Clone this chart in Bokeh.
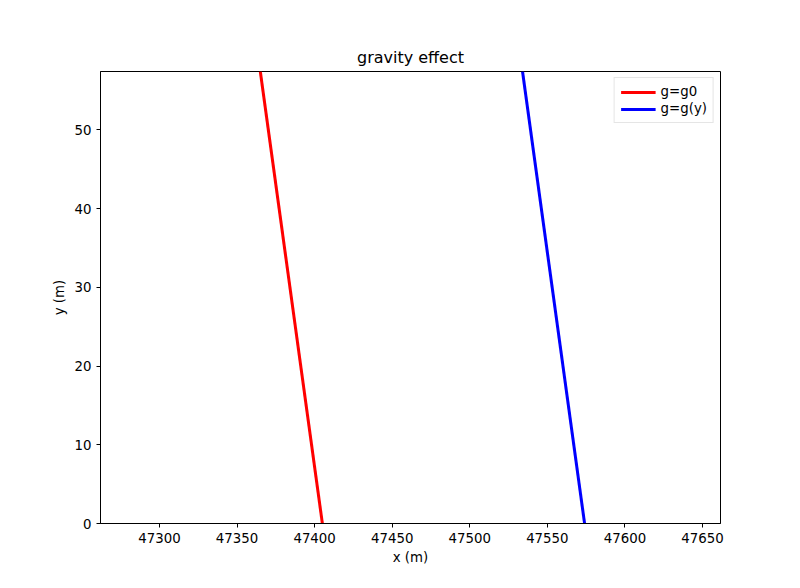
from bokeh.plotting import figure
from bokeh.models import Range1d, Legend, LegendItem
from bokeh.embed import file_html
from bokeh.resources import INLINE

# trajectory end points
x_g0 = [47405, 47365]
y_g0 = [0, 57.4]
x_gy = [47574, 47534]
y_gy = [0, 57.4]

p = figure(width=784, height=572, output_backend="svg", toolbar_location=None,
           x_range=Range1d(47262, 47661.6), y_range=Range1d(0, 57.4),
           min_border_left=100, min_border_right=64, min_border_top=71, min_border_bottom=49)
p.title.text = "gravity effect"
p.title.align = "center"
p.title.text_font = "DejaVu Sans"
p.title.text_font_size = "12pt"
p.title.text_font_style = "normal"
p.title.text_color = "black"
p.xgrid.visible = False
p.ygrid.visible = False
p.outline_line_color = "black"
for ax in (p.xaxis, p.yaxis):
    ax.major_label_text_font = "DejaVu Sans"
    ax.major_label_text_font_size = "10pt"
    ax.major_label_text_color = "black"
    ax.axis_label_text_font = "DejaVu Sans"
    ax.axis_label_text_font_size = "10pt"
    ax.axis_label_text_font_style = "normal"
    ax.axis_label_text_color = "black"
    ax.minor_tick_line_color = None
    ax.major_tick_in = 0
    ax.major_tick_out = 4
p.xaxis.axis_label_standoff = 4
p.xaxis.axis_label = "x (m)"
p.yaxis.axis_label = "y (m)"
p.xaxis.ticker = [47300, 47350, 47400, 47450, 47500, 47550, 47600, 47650]
p.yaxis.ticker = [0, 10, 20, 30, 40, 50]

r1 = p.line(x_g0, y_g0, line_color="red", line_width=3)
r2 = p.line(x_gy, y_gy, line_color="blue", line_width=3)
leg = Legend(items=[LegendItem(label="g=g0", renderers=[r1]),
                    LegendItem(label="g=g(y)", renderers=[r2])],
             location="top_right", label_text_font="DejaVu Sans",
             label_text_font_size="10pt", label_text_color="black",
             border_line_color="#cccccc",
             glyph_width=35, spacing=2, padding=6, margin=6, label_height=14, glyph_height=14)
p.add_layout(leg)

open("out.html", "w").write(file_html(p, INLINE))
